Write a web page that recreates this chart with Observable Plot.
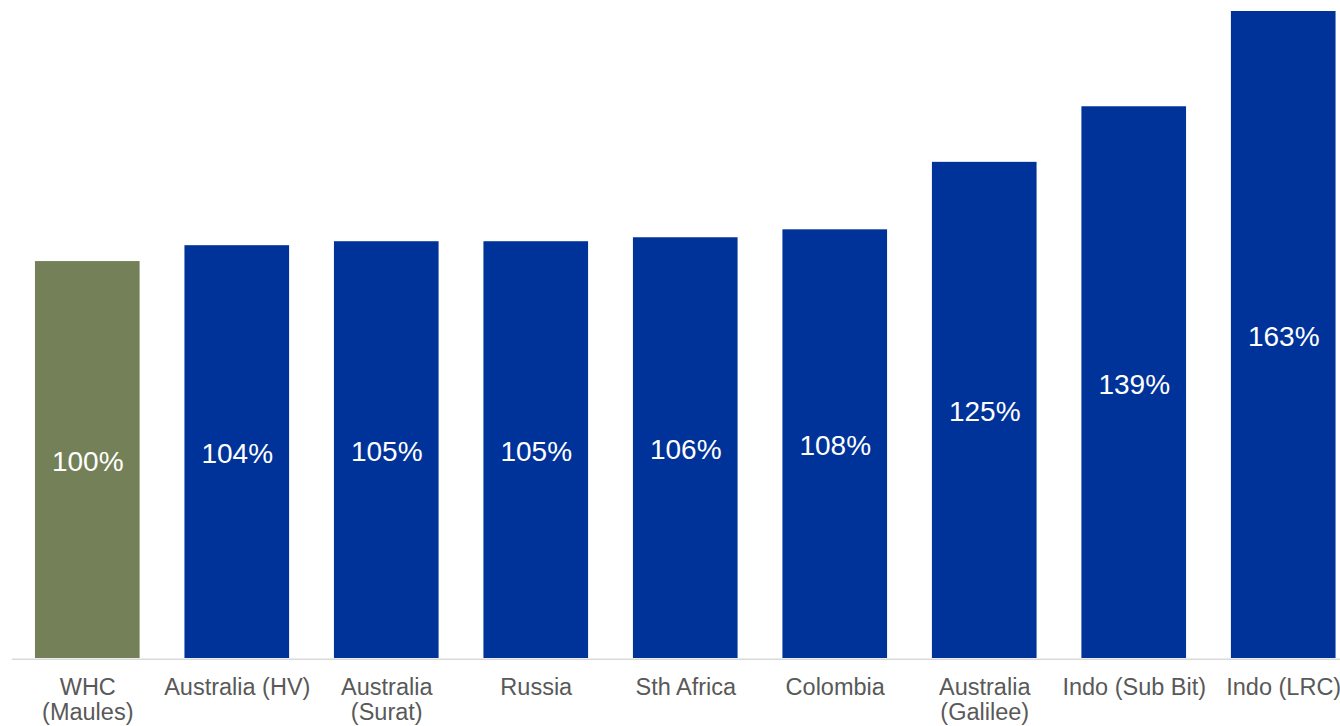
<!DOCTYPE html>
<html>
<head>
<meta charset="utf-8">
<script src="https://cdn.jsdelivr.net/npm/d3@7"></script>
<script src="https://cdn.jsdelivr.net/npm/@observablehq/plot@0.6"></script>
<style>
  html, body { margin: 0; padding: 0; background: #fff; }
  #chart svg { display: block; }
</style>
</head>
<body>
<div id="chart"></div>
<script>
const categories = ["WHC\n(Maules)", "Australia (HV)", "Australia\n(Surat)", "Russia", "Sth Africa", "Colombia", "Australia\n(Galilee)", "Indo (Sub Bit)", "Indo (LRC)"];
const values = [100, 104, 105, 105, 106, 108, 125, 139, 163];
const groups = ["WHC", "Other", "Other", "Other", "Other", "Other", "Other", "Other", "Other"];

const data = categories.map((c, i) => ({category: c, value: values[i], group: groups[i]}));

const chart = Plot.plot({
  width: 1340,
  height: 726,
  marginTop: 11,
  marginBottom: 68,
  marginLeft: 12,
  marginRight: 0,
  style: {fontFamily: "Liberation Sans, Arial, sans-serif", background: "#fff"},
  x: {domain: categories, range: [21.5, 1349], paddingInner: 0.3, paddingOuter: 0.09, round: false, label: null},
  y: {domain: [0, 163], axis: null},
  color: {domain: ["WHC", "Other"], range: ["#748057", "#003399"]},
  marks: [
    Plot.barY(data, {x: "category", y: "value", fill: "group"}),
    Plot.ruleY([0], {stroke: "#d9d9d9", strokeWidth: 1.5, dy: 0.75}),
    Plot.text(data, {x: "category", y: d => d.value / 2, text: d => d.value + "%", fill: "white", fontSize: 28, textAnchor: "middle", dy: 2}),
    Plot.axisX({tickSize: 0, tickPadding: 18, fontSize: 23.5, lineHeight: 1.08, color: "#595959", label: null})
  ]
});
document.getElementById("chart").appendChild(chart);
</script>
</body>
</html>
